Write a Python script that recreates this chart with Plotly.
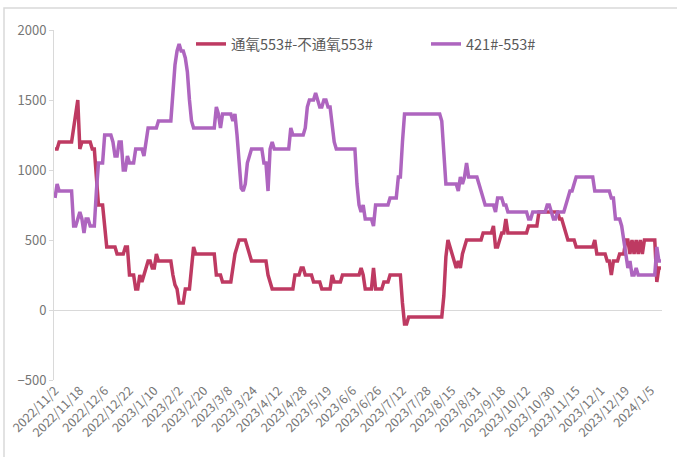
import plotly.graph_objects as go

tick_labels = ["2022/11/2", "2022/11/18", "2022/12/6", "2022/12/22", "2023/1/10", "2023/2/2",
               "2023/2/20", "2023/3/8", "2023/3/24", "2023/4/12", "2023/4/28", "2023/5/19",
               "2023/6/6", "2023/6/26", "2023/7/12", "2023/7/28", "2023/8/15", "2023/8/31",
               "2023/9/18", "2023/10/12", "2023/10/30", "2023/11/15", "2023/12/1", "2023/12/19",
               "2024/1/5"]

name_red = "通氧553#-不通氧553#"
name_purple = "421#-553#"

red_values = [
    1150, 1150, 1200, 1200, 1200, 1200, 1200, 1200, 1200, 1300,
    1400, 1500, 1150, 1200, 1200, 1200, 1200, 1200, 1150, 1150,
    950, 750, 750, 750, 600, 450, 450, 450, 450, 450,
    400, 400, 400, 400, 450, 450, 250, 250, 250, 150,
    150, 250, 200, 250, 300, 350, 350, 300, 300, 400,
    350, 350, 350, 350, 350, 350, 350, 250, 180, 150,
    50, 50, 50, 150, 150, 150, 300, 450, 400, 400,
    400, 400, 400, 400, 400, 400, 400, 400, 250, 250,
    250, 200, 200, 200, 200, 200, 300, 400, 450, 500,
    500, 500, 500, 450, 400, 350, 350, 350, 350, 350,
    350, 350, 350, 250, 200, 150, 150, 150, 150, 150,
    150, 150, 150, 150, 150, 150, 250, 250, 250, 300,
    300, 250, 250, 250, 250, 200, 200, 200, 200, 150,
    150, 150, 150, 150, 250, 200, 200, 200, 200, 250,
    250, 250, 250, 250, 250, 250, 250, 250, 300, 250,
    150, 150, 150, 150, 300, 150, 150, 150, 150, 200,
    200, 200, 250, 250, 250, 250, 250, 250, 50, -100,
    -100, -50, -50, -50, -50, -50, -50, -50, -50, -50,
    -50, -50, -50, -50, -50, -50, -50, -50, 100, 380,
    500, 450, 400, 350, 300, 350, 300, 400, 450, 500,
    500, 500, 500, 500, 500, 500, 500, 550, 550, 550,
    550, 550, 600, 450, 450, 500, 550, 550, 650, 550,
    550, 550, 550, 550, 550, 550, 550, 550, 550, 600,
    600, 600, 600, 600, 700, 700, 700, 700, 700, 700,
    700, 700, 700, 700, 650, 650, 600, 550, 500, 500,
    500, 500, 450, 450, 450, 450, 450, 450, 450, 450,
    450, 500, 400, 400, 400, 400, 400, 350, 350, 250,
    350, 350, 350, 400, 400, 400, 500, 500, 400, 500,
    400, 500, 400, 500, 400, 500, 500, 500, 500, 500,
    500, 200, 300, 300,
]

purple_values = [
    800, 900, 850, 850, 850, 850, 850, 850, 850, 600,
    600, 650, 700, 650, 550, 650, 650, 600, 600, 600,
    850, 1050, 1050, 1050, 1250, 1250, 1250, 1250, 1200, 1100,
    1100, 1200, 1200, 1000, 1000, 1100, 1050, 1050, 1050, 1150,
    1150, 1150, 1150, 1100, 1200, 1300, 1300, 1300, 1300, 1300,
    1350, 1350, 1350, 1350, 1350, 1350, 1350, 1550, 1750, 1850,
    1900, 1850, 1850, 1800, 1700, 1500, 1350, 1300, 1300, 1300,
    1300, 1300, 1300, 1300, 1300, 1300, 1300, 1300, 1450, 1400,
    1300, 1400, 1400, 1400, 1400, 1400, 1350, 1400, 1250, 1050,
    870, 850, 900, 1050, 1100, 1150, 1150, 1150, 1150, 1150,
    1150, 1050, 1050, 850, 1150, 1200, 1150, 1150, 1150, 1150,
    1150, 1150, 1150, 1150, 1300, 1250, 1250, 1250, 1250, 1250,
    1250, 1300, 1450, 1500, 1500, 1500, 1550, 1500, 1450, 1450,
    1500, 1500, 1450, 1450, 1300, 1200, 1150, 1150, 1150, 1150,
    1150, 1150, 1150, 1150, 1150, 1150, 900, 750, 700, 750,
    650, 650, 650, 650, 600, 750, 750, 750, 750, 750,
    750, 750, 800, 800, 800, 800, 950, 950, 1200, 1400,
    1400, 1400, 1400, 1400, 1400, 1400, 1400, 1400, 1400, 1400,
    1400, 1400, 1400, 1400, 1400, 1400, 1400, 1350, 1100, 900,
    900, 900, 900, 900, 900, 850, 950, 900, 950, 1050,
    950, 950, 950, 950, 950, 900, 850, 800, 750, 750,
    750, 750, 750, 700, 800, 800, 800, 750, 750, 700,
    700, 700, 700, 700, 700, 700, 700, 700, 700, 650,
    650, 700, 700, 700, 700, 700, 700, 700, 750, 750,
    700, 650, 650, 700, 700, 700, 700, 750, 800, 850,
    850, 900, 950, 950, 950, 950, 950, 950, 950, 950,
    950, 850, 850, 850, 850, 850, 850, 850, 850, 800,
    800, 650, 650, 650, 600, 500, 400, 300, 350, 250,
    250, 300, 250, 250, 250, 250, 250, 250, 250, 250,
    250, 450, 350, 350,
]

x_idx = list(range(len(red_values)))
tick_step = 12
tick_vals = [i * tick_step for i in range(len(tick_labels))]

fig = go.Figure()
fig.add_trace(go.Scatter(x=x_idx, y=red_values, mode="lines", name=name_red,
                         line=dict(color="#BE3A62", width=3.5)))
fig.add_trace(go.Scatter(x=x_idx, y=purple_values, mode="lines", name=name_purple,
                         line=dict(color="#AE65BF", width=3.5)))

grey = "#D9D9D9"
txt = "#595959"
tick_txt = "#767676"
fig.update_layout(
    width=677, height=457,
    margin=dict(l=54, r=15, t=30, b=77),
    paper_bgcolor="white", plot_bgcolor="white",
    font=dict(family="Noto Sans CJK SC, sans-serif", color=txt, size=12),
    showlegend=True,
    legend=dict(orientation="h", x=(191 - 54) / 608, xanchor="left", y=0.96, yanchor="middle",
                font=dict(size=14.5, color=txt), bgcolor="rgba(0,0,0,0)",
                entrywidth=190, entrywidthmode="pixels", itemwidth=30),
    xaxis=dict(range=[-0.5, 293.5], tickmode="array", tickvals=tick_vals, ticktext=tick_labels,
               tickangle=-45, tickfont=dict(size=12.5, color=tick_txt), showgrid=False,
               zeroline=False, showline=False, ticks="", automargin=False),
    yaxis=dict(range=[-500, 2000], tickvals=[-500, 0, 500, 1000, 1500, 2000],
               tickfont=dict(size=13, color=tick_txt), showgrid=False,
               zeroline=True, zerolinecolor=grey, zerolinewidth=1,
               showline=True, linecolor=grey, linewidth=1, ticks="outside",
               ticklen=4, tickcolor=grey, automargin=False),
    shapes=[dict(type="rect", xref="paper", yref="paper",
                 x0=(4 - 54) / 608, x1=(690 - 54) / 608,
                 y0=(380 - 470) / 350, y1=(380 - 8) / 350,
                 line=dict(color="#D9D9D9", width=1.5), fillcolor="rgba(0,0,0,0)",
                 layer="below")],
)

fig.write_html("out.html", config={"displayModeBar": False},
               post_script="document.body.style.margin='0';")
